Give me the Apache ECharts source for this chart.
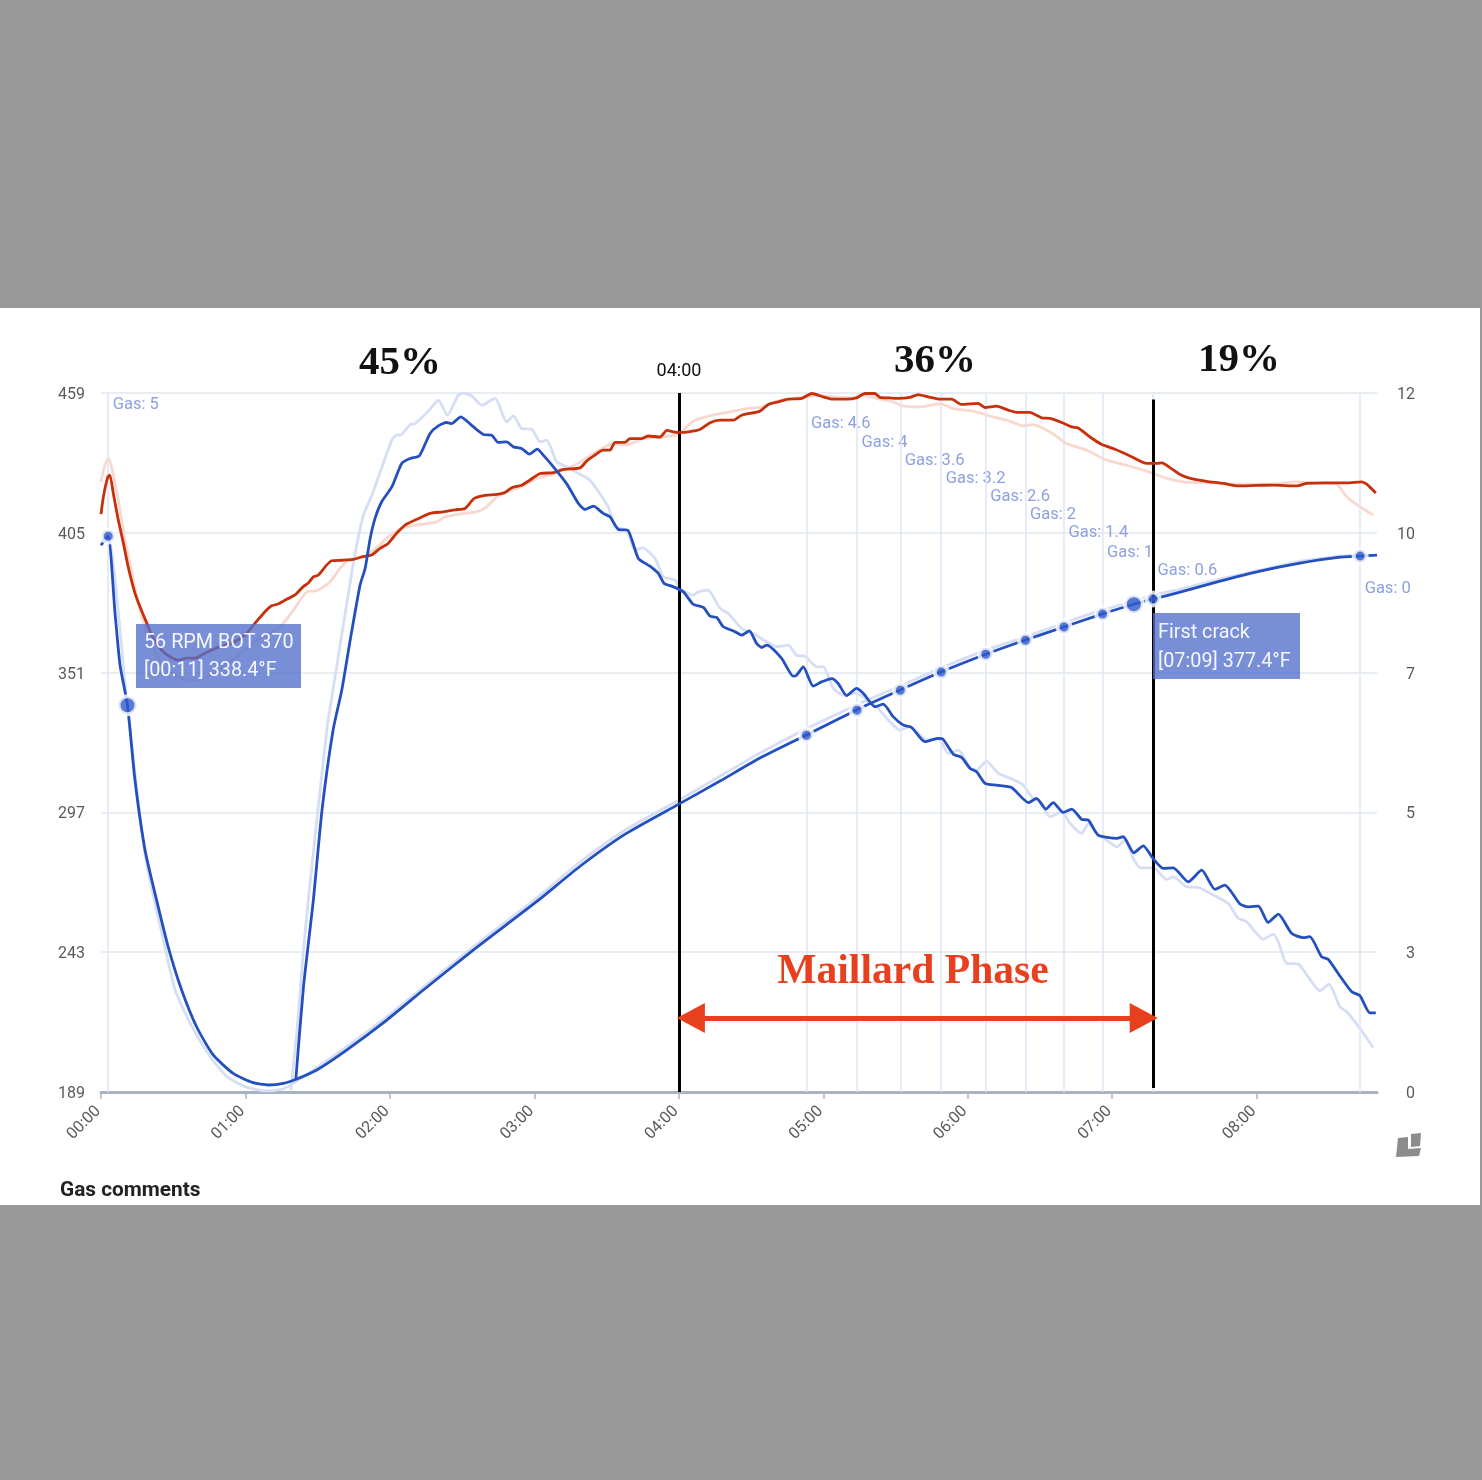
<!DOCTYPE html>
<html><head><meta charset="utf-8">
<style>html,body{margin:0;padding:0;background:#999}#c{width:1482px;height:1480px}</style>
<script src="https://cdn.jsdelivr.net/npm/echarts@6/dist/echarts.min.js"></script>
</head><body><div id="c"></div>
<script>
const xTicks=[0,60,120,180,240,300,360,420,480];
const leftTickLabels=[189,243,297,351,405,459];
const rightTickLabels=['0','3','5','7','10','12'];

const exhaust=[[0,412.2],[1,418.9],[2.8,426.5],[3.7,427.3],[5.1,420.3],[7.2,409.9],[9.3,401],[11.3,391.8],[14.1,381.7],[16.2,376.4],[19,370.1],[21.7,364.3],[25.2,359.7],[28.7,357.1],[32.1,355.8],[35.6,356.6],[39,356.6],[43.2,358.5],[48.7,360.8],[54.3,362.4],[59.8,365.5],[64,370.1],[68.1,374.5],[70.9,376.8],[73.6,377.5],[77.1,379.3],[80.6,381],[84,384.2],[86.1,385.6],[88.2,388],[90.2,388.6],[93.7,392.5],[95.8,394.2],[100,394.4],[104.8,394.7],[108.3,395.7],[112.4,396.4],[115.9,399],[119.3,400.9],[122.8,404.8],[126.3,408],[131.2,410.2],[136.7,412.5],[142.2,413.1],[147.1,413.9],[151.2,414.4],[155,418.3],[159.5,419.5],[164.4,419.8],[167.8,420.6],[170.6,422.4],[174.8,423.4],[178.2,425.4],[182.4,427.9],[187.9,428.2],[192,429.5],[199,430.1],[201.7,432.7],[204.5,434.6],[208.6,436.9],[211.4,436.9],[213.5,439.9],[217.6,439.9],[219.7,441.4],[224.6,441.4],[227.3,442.4],[232.2,442],[235,444.6],[237.7,444],[240.5,443.8],[244,444],[248.8,444.9],[253,447.5],[257.1,448.5],[262.7,448.5],[266.1,450.4],[273.7,452],[277.2,454.6],[281.3,455.6],[285.5,456.6],[291,456.9],[295.2,458.8],[300,457.5],[304.1,456.6],[309.7,456.6],[313.8,457.1],[317.3,458.8],[321.4,458.8],[323.5,457.3],[327.6,457.1],[331.1,456.9],[336,457.3],[339.4,458.4],[343.6,457.5],[348.4,456.6],[353.3,456.6],[357.4,454.6],[364.3,455],[367.1,453.4],[372,453.9],[376.8,452.4],[380.3,451.5],[385.8,451.5],[390.7,449.4],[394.2,449.2],[399,447.6],[403.2,445.9],[405.9,445.5],[410.8,442],[415.7,439.1],[421.2,437.3],[427.4,434.7],[434.4,431.8],[438.5,431.8],[440.7,432],[444.1,430.1],[448.2,427.5],[452.4,426],[459.3,424.9],[466.2,424.1],[472.4,423.1],[480,423.3],[486.9,423.4],[496.6,423.1],[500.8,424.1],[509.1,424.3],[517.4,424.3],[523.6,424.7],[525.7,423.8],[529.5,420.4]];

const exhaustRef=[[0,424.7],[1.4,430.5],[3.1,433.7],[4.5,429.9],[7.2,417.6],[10,402.2],[12.8,389.4],[15.5,377.8],[18.3,368.6],[21.7,361],[25.9,353.2],[32.8,348.9],[39.8,348.1],[46.7,350.8],[56.4,357.1],[64.7,363.5],[74.4,368.7],[79.9,375.1],[85.4,382.2],[89.6,382.6],[95.1,386],[99.3,391.3],[103.4,394.8],[108.8,395.7],[114.5,399.2],[119.3,403.4],[124.9,406.7],[131.1,408],[139.4,409.2],[142.9,411.2],[150.5,412.5],[156,413.1],[160.2,415],[164.4,418.9],[168.5,420.8],[174.7,422.8],[180.9,426],[186.5,427.3],[192,429.2],[198.9,432.2],[204.5,435.6],[212.8,439.5],[218.3,438.9],[225.2,441.4],[233.5,442],[240.5,443.4],[243.2,445.9],[246.7,448.5],[252.9,450.2],[261.2,451.7],[268.2,453],[275,453.6],[279.2,455.4],[286.1,456.6],[293.1,457.5],[297.2,458.1],[304.1,457.5],[312.4,457.1],[316.6,458.2],[323.5,456.6],[329.1,455.6],[333.2,454],[340.1,453.6],[348.4,454.9],[354,453],[362.2,452],[370.5,449.8],[377.5,448.1],[383,446.3],[387.2,446.8],[394.1,444],[401.1,439.5],[409.4,436.9],[417.7,433.1],[426,431.1],[434.3,428.8],[437.1,427.9],[442.6,426],[449.5,424.7],[459.2,424.3],[473,423.8],[486.9,423.8],[496.6,424.7],[503.5,424.3],[513.2,423.8],[517.4,418.9],[523,415],[528.5,411.8]];

const bean=[[0,400.2],[2.9,403.7],[5.8,374.3],[7.9,353.9],[11,338.4],[14.1,309.5],[18.3,282.4],[23.1,263.1],[27.9,245.1],[33.5,228.4],[39.7,214.2],[46.6,203.3],[54.9,196.2],[63.2,192.6],[69.5,191.7],[75.7,192.3],[81.3,194],[89.6,197.5],[102,205.2],[118.7,216.8],[133.9,228.4],[154.6,243.8],[180.9,262.5],[199,276.2],[217.7,288.6],[240,300.2],[257.1,309.1],[273.7,318],[292.8,326.8],[313.6,336.5],[331.8,344.2],[348.8,351.2],[367.5,358.1],[383.7,363.5],[399.9,368.6],[415.7,373.6],[429,377.4],[437,379.4],[448.2,382.1],[464.8,386.3],[481.4,390.2],[498,393.3],[514.6,395.6],[522.9,396],[530,396.4]];

const beanRef=[[0,401.8],[2.9,403.7],[10.8,339.2],[18.3,280.5],[24.5,253.5],[30.8,228.4],[37,215.6],[45.4,202.6],[52.3,194.9],[60.5,190.9],[68.9,189.4],[75.7,190.2],[81.3,193.2],[102,206.4],[118.7,218],[133.9,229.5],[154.6,245],[180.9,263.9],[199,277.8],[217.7,290.2],[240,301.7],[257.1,311],[273.7,319.9],[292.8,329.2],[313.6,338.4],[331.8,345.8],[348.8,352.7],[367.5,359.7],[383.7,364.7],[399.9,370.1],[415.7,375.1],[429,378.6],[437,380.9],[448.2,383.2],[464.8,387.1],[481.4,390.6],[498,394],[514.6,396],[522.9,396.7]];

const rise=[[80.9,193.6],[84.1,229.6],[88.2,263.1],[91.8,297.9],[96.4,328.8],[100,344.2],[103.5,363.5],[107.6,384.8],[109.7,391.2],[111.8,402.8],[113.8,410.5],[116.6,417],[120.8,422.7],[124.9,431.8],[128.4,433.7],[132.2,434.7],[136.7,443.4],[140.1,446.3],[143.6,447.6],[145.7,447.2],[149.4,449.8],[154.7,445.9],[158.8,443],[162.3,442.7],[165,439.9],[168.5,440.1],[171.3,438.2],[174.7,437.6],[177.9,435.4],[181.2,437.3],[183.7,435],[187.9,430.5],[193.4,424],[198.3,416.3],[201,414],[204.5,415.3],[208.6,412.5],[211.4,411.2],[214.9,406.3],[218.8,406],[223.2,395.1],[228,392.1],[231.5,389.3],[233.9,385.4],[237.1,384.4],[241.9,382.2],[246,377.4],[250.2,376.2],[253,372.8],[255.7,372.3],[258.5,368.7],[262.7,367.1],[266.1,365.5],[269.3,367.1],[272.3,362.3],[274.4,360.7],[276.5,361.6],[282.7,356.5],[287.5,349.6],[288.9,350],[291.7,353.2],[295.8,345.8],[299.3,347.4],[303.5,348.7],[306.2,346.8],[309.7,342.1],[313.8,344.9],[316.6,343],[321.5,337.8],[324.9,338.8],[329.1,333.9],[333.3,330.7],[336.7,329.8],[342.2,324.3],[347.8,325.6],[349.8,325.2],[354,319.5],[357.5,318.2],[361,314],[363.7,312.7],[367.2,308.2],[372,307.5],[378.2,306.6],[385.2,300.8],[388.6,302.4],[392.5,298.3],[395.5,300.8],[399.7,297],[403.2,298.3],[407.3,294.3],[410.1,294],[414.2,288.2],[421.9,287],[424.6,287.6],[429,281.4],[432.9,284.1],[437.3,278.8],[441.2,275.4],[445.4,275.6],[451.6,270.2],[457.2,274.7],[462.7,267.3],[466.8,268.9],[473.1,261.6],[476.5,260.5],[480.7,260.8],[484.8,254.5],[489,257.7],[494.5,250.3],[499.4,248.6],[502.1,249],[507,241.2],[509.7,240.3],[514.6,233.8],[519.5,227.7],[522.9,226.2],[527,219.6],[529.5,219.6]];

const riseRef=[[78.8,189.7],[81.3,211.8],[84.1,243.8],[86.1,263.1],[93.8,328.8],[97.9,353.2],[104.8,393.2],[109,411.8],[112.5,419.5],[120.8,440.8],[122.8,442.7],[124.2,442.7],[128.4,446.8],[130.4,447.2],[136,452],[140.1,456.2],[143.9,450.4],[148.4,458.2],[150.5,459],[154,457.9],[158.1,454.3],[163.7,456.9],[168.5,447.8],[171.3,450.2],[174.7,445.3],[178.9,445],[182.4,440.1],[185.1,440.8],[189.3,432.4],[193.4,430.5],[198.3,427.9],[203.1,425.3],[210.7,415],[213.5,407.3],[218.4,406],[221.8,398.3],[225,399.2],[230.1,395.1],[233.6,388],[238.4,386.7],[240.5,383.5],[246,380.9],[248.1,382.2],[252.2,382.8],[257.1,375.8],[260.6,373.8],[266.1,368.1],[270.9,366.1],[276.5,362.9],[280.7,361],[285.5,361.6],[288.9,357.7],[292.4,357.3],[297.3,353.2],[300,353.2],[304.2,344.9],[308.3,342.3],[313.2,343.1],[321.5,338.4],[327.7,332],[331.8,328.8],[336,330.1],[343,324.9],[347.8,325.6],[351.9,319.8],[356.1,321],[361,314],[363.7,313.3],[367.8,316.8],[372.7,312.1],[378.9,309.7],[383.1,307.5],[386.6,303],[390,301.1],[394.1,295.3],[399,297.2],[402.5,292.7],[407.3,288.9],[410.1,292.7],[414.2,288.2],[417.7,286.3],[421.9,283.7],[425.3,286.3],[428.8,279.2],[431.6,275.6],[437.1,275.6],[442.6,271.1],[445.4,272.1],[450.9,268.3],[455.8,268],[462,265.1],[468.2,261.8],[472.4,256.1],[475.8,254.8],[482.8,248],[486.9,250],[489,247],[492.4,238.7],[497.3,238.4],[501.4,233.5],[506.3,228.1],[510,230.7],[514.6,221.9],[517.4,220],[522.9,213.6],[528.4,206.2]];

const gasTimes=[3,293,314,332,349,367.5,384,400,416,437,523];
const gasLabels=['Gas: 5','Gas: 4.6','Gas: 4','Gas: 3.6','Gas: 3.2','Gas: 2.6','Gas: 2','Gas: 1.4','Gas: 1','Gas: 0.6','Gas: 0'];
const gasLabelLevels=[455.1,447.7,440.4,433.4,426.5,419.5,412.6,405.6,398,391,384];
const gasDotValues=[403.7,326.8,336.5,344.2,351.2,358.1,363.5,368.6,373.6,379.4,396];
const commentDots=[[11,338.4],[429,377.4]];
const phaseMarks=[240,437];
const phaseArrow=[245,433.1];
const phaseArrowLevel=217.6;

const fmt=v=>{const m=Math.floor(v/60),s=Math.round(v-m*60);return String(m).padStart(2,'0')+':'+String(s).padStart(2,'0');};
const FONT='Roboto, sans-serif';
const lineS=(name,data,color,z)=>({name,type:'line',data,showSymbol:false,symbol:'none',smooth:0.2,z,silent:true,
  lineStyle:{color,width:2.8,join:'round'}});
const tickRich={a:{padding:[4,0,0,0],color:'#5a5a5a',fontSize:16,fontFamily:FONT}};

const chart=echarts.init(document.getElementById('c'),null,{renderer:'canvas'});
const tip=(x,y,w,h,l1,l2,pad)=>[
  {type:'rect',z:60,shape:{x,y,width:w,height:h},style:{fill:'rgba(82,112,205,0.78)'}},
  {type:'text',z:61,style:{x:x+pad,y:y+h*0.27+2,text:l1,fill:'rgba(255,255,255,0.92)',font:'19.8px '+FONT,textVerticalAlign:'middle'}},
  {type:'text',z:61,style:{x:x+pad,y:y+h*0.71+2,text:l2,fill:'rgba(255,255,255,0.92)',font:'19.8px '+FONT,textVerticalAlign:'middle'}}
];
const head=(t,x,y)=>({type:'text',z:61,style:{x,y,text:t,fill:'#111',font:'bold 41px "Liberation Serif", serif',textAlign:'center',textVerticalAlign:'middle'}});

chart.setOption({
  animation:false,
  backgroundColor:'#999999',
  textStyle:{fontFamily:FONT},
  grid:{left:101,right:105,top:393,bottom:388,containLabel:false},
  xAxis:{type:'value',min:0,max:530,interval:60,splitLine:{show:false},
    axisLine:{show:true,onZero:false,lineStyle:{color:'#a8b3c1',width:3}},
    axisTick:{show:true,length:7,customValues:xTicks,lineStyle:{color:'#a8b3c1',width:1.5}},
    axisLabel:{customValues:xTicks,rotate:45,margin:14,padding:[0,4,0,0],color:'#5a5a5a',fontSize:16,fontFamily:FONT,formatter:v=>fmt(v)}},
  yAxis:[
   {type:'value',min:189,max:459,interval:54,axisLine:{show:false},axisTick:{show:false},
    axisLabel:{margin:16,rich:tickRich,showMinLabel:true,showMaxLabel:true,
      formatter:(v,i)=>'{a|'+leftTickLabels[i]+'}'},
    splitLine:{show:true,lineStyle:{color:'#e8edf1',width:2}}},
   {type:'value',min:0,max:12,interval:2.4,position:'right',axisLine:{show:false},axisTick:{show:false},splitLine:{show:false},
    axisLabel:{margin:38,align:'right',rich:tickRich,
      formatter:(v,i)=>'{a|'+rightTickLabels[i]+'}'}}
  ],
  graphic:[
    {type:'rect',z:-5,shape:{x:0,y:308,width:1480,height:897},style:{fill:'#ffffff'}},
    head('45%',400,363),head('36%',935,361),head('19%',1239,360),
    {type:'text',z:61,style:{x:679,y:371,text:fmt(phaseMarks[0]),fill:'#111',font:'18px '+FONT,textAlign:'center',textVerticalAlign:'middle'}},
    {type:'text',z:61,style:{x:913,y:972,text:'Maillard Phase',fill:'#e8401f',font:'bold 41.6px "Liberation Serif", serif',textAlign:'center',textVerticalAlign:'middle'}},
    {type:'text',z:61,style:{x:60,y:1191,text:'Gas comments',fill:'#222',font:'bold 20.8px '+FONT,textVerticalAlign:'middle'}},
    {type:'polygon',z:61,shape:{points:[[1398,1138],[1408,1137],[1408,1149],[1421,1148],[1419,1156],[1396,1157]]},style:{fill:'#8c8c8c'}},
    {type:'polygon',z:61,shape:{points:[[1411,1134],[1421,1133],[1420,1146],[1411,1147]]},style:{fill:'#8c8c8c'}},
    ...tip(136,624,165,64,'56 RPM BOT 370','[00:11] 338.4°F',8),
    ...tip(1153,613,147,66,'First crack','[07:09] 377.4°F',5)
  ],
  series:[
    {name:'Gas',type:'scatter',z:3,symbolSize:1,silent:true,itemStyle:{color:'rgba(0,0,0,0)'},
     data:gasTimes.map((t,i)=>({value:[t,gasLabelLevels[i]],label:{formatter:gasLabels[i]}})),
     label:{show:true,position:'right',distance:4,offset:[0,2],color:'#6f88d8',fontSize:16.5,fontFamily:FONT},
     markLine:{silent:true,symbol:'none',label:{show:false},animation:false,
       lineStyle:{color:'#dfe5f6',width:1.5,type:'solid'},
       data:gasTimes.map(t=>({xAxis:t}))}},
    lineS('Exhaust reference',exhaustRef,'#f8d8cf',4),
    lineS('Bean reference',beanRef,'#d5def5',4),
    lineS('Rise reference',riseRef,'#d5def5',4),
    lineS('Exhaust',exhaust,'#c8300c',6),
    lineS('Bean',bean,'#2350be',6),
    lineS('Rise',rise,'#2350be',6),
    {name:'Gas points',type:'scatter',z:7,silent:true,symbolSize:13,
     itemStyle:{color:'#2f59cb',borderColor:'#fff',borderWidth:4},
     data:gasTimes.map((t,i)=>[t,gasDotValues[i]])},
    {name:'Comments',type:'scatter',z:7,silent:true,symbolSize:18,
     itemStyle:{color:'#2f59cb',borderColor:'#fff',borderWidth:4},
     data:commentDots},
    {name:'Marks',type:'line',data:[],z:20,
     markLine:{silent:true,symbol:'none',label:{show:false},animation:false,
       lineStyle:{color:'#000',width:3,type:'solid'},
       data:[[{coord:[phaseMarks[0],459]},{coord:[phaseMarks[0],189]}],
             [{coord:[phaseMarks[1],456.5]},{coord:[phaseMarks[1],190.5]}]]}},
    {name:'Phase arrow',type:'line',data:[],z:21,
     markLine:{silent:true,symbol:['triangle','triangle'],symbolSize:[30,28],label:{show:false},animation:false,
       lineStyle:{color:'#e8401f',width:5,type:'solid'},itemStyle:{color:'#e8401f'},
       data:[[{coord:[phaseArrow[0],phaseArrowLevel]},{coord:[phaseArrow[1],phaseArrowLevel]}]]}}
  ]
});
</script></body></html>
